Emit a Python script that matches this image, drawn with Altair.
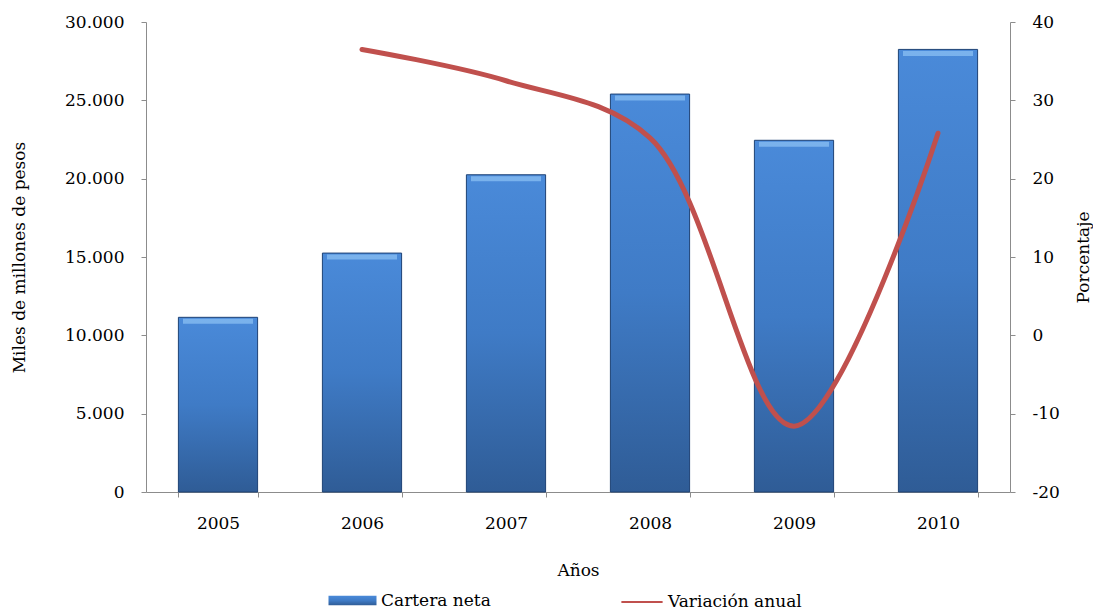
import altair as alt
import pandas as pd

years = ["2005", "2006", "2007", "2008", "2009", "2010"]
cartera = [11150, 15250, 20250, 25400, 22450, 28250]
variacion = [None, 36.5, 32.5, 25.2, -11.6, 25.8]

df = pd.DataFrame({"Año": years, "Cartera": cartera, "Variacion": variacion})

FONT = "DejaVu Serif"
AX = "#8c8c8c"

x = alt.X("Año:N", title="Años",
          scale=alt.Scale(paddingInner=0.45, paddingOuter=0.225),
          axis=alt.Axis(labelAngle=0, tickBand="extent", labelPadding=18,
                        titlePadding=31, domainColor=AX, tickColor=AX, tickSize=5))

grad = alt.Gradient(gradient="linear", x1=0, x2=0, y1=0, y2=1,
                    stops=[alt.GradientStop(color="#4a8ad9", offset=0),
                           alt.GradientStop(color="#3f7bc6", offset=0.5),
                           alt.GradientStop(color="#2f5c96", offset=1)])

yleft = alt.Y("Cartera:Q", title="Miles de millones de pesos",
              scale=alt.Scale(domain=[0, 30000]),
              axis=alt.Axis(values=[0, 5000, 10000, 15000, 20000, 25000, 30000],
                            labelExpr="replace(format(datum.value, ','), ',', '.')",
                            grid=False, domainColor=AX, tickColor=AX, tickSize=5,
                            labelPadding=17, titlePadding=36))

bars = alt.Chart(df).mark_bar(color=grad, stroke="#1e4275", strokeWidth=1).encode(
    x=x, y=yleft,
    opacity=alt.Opacity("s:N", scale=alt.Scale(domain=["Cartera neta"], range=[1]),
                        legend=alt.Legend(title=None, orient="none", legendX=182, legendY=554,
                                          symbolType="M-1,-0.2H1V0.2H-1Z", symbolSize=2304,
                                          symbolFillColor="#3f7bc6", symbolStrokeColor="#1e4275",
                                          symbolStrokeWidth=1, labelOffset=4))
).transform_calculate(s="'Cartera neta'")

hl = alt.Chart(df).mark_tick(color="#8fc3f5", thickness=5, size=70, yOffset=4).encode(
    x=x, y=yleft
)

line = alt.Chart(df).transform_filter("datum.Variacion != null").mark_line(
    interpolate="catmull-rom", strokeWidth=5, strokeCap="round"
).encode(
    x=x,
    y=alt.Y("Variacion:Q", title="Porcentaje", scale=alt.Scale(domain=[-20, 40]),
            axis=alt.Axis(orient="right", values=[-20, -10, 0, 10, 20, 30, 40], grid=False,
                          labelExpr="'' + datum.value",
                          domainColor=AX, tickColor=AX, tickSize=5, labelPadding=17,
                          titlePadding=33, titleAngle=270)),
    color=alt.Color("s:N", scale=alt.Scale(domain=["Variación anual"], range=["#c0504d"]),
                    legend=alt.Legend(title=None, orient="none", legendX=474, legendY=558,
                                      symbolType="stroke", symbolSize=1700,
                                      symbolStrokeWidth=2, labelOffset=4))
).transform_calculate(s="'Variación anual'")

left = alt.layer(bars, hl)
chart = alt.layer(left, line).resolve_scale(y="independent").properties(
    width=864, height=470,
    autosize=alt.AutoSizeParams(type="none"),
    padding={"left": 138, "top": 14, "right": 83, "bottom": 118},
).configure_view(stroke=None).configure_axis(
    labelFont=FONT, titleFont=FONT, labelFontSize=17, titleFontSize=17,
    labelColor="#000", titleColor="#000", titleFontWeight="normal"
).configure_legend(labelFont=FONT, labelFontSize=17, labelColor="#000")

chart.save("out.html", embed_options={"renderer": "svg", "actions": False})
